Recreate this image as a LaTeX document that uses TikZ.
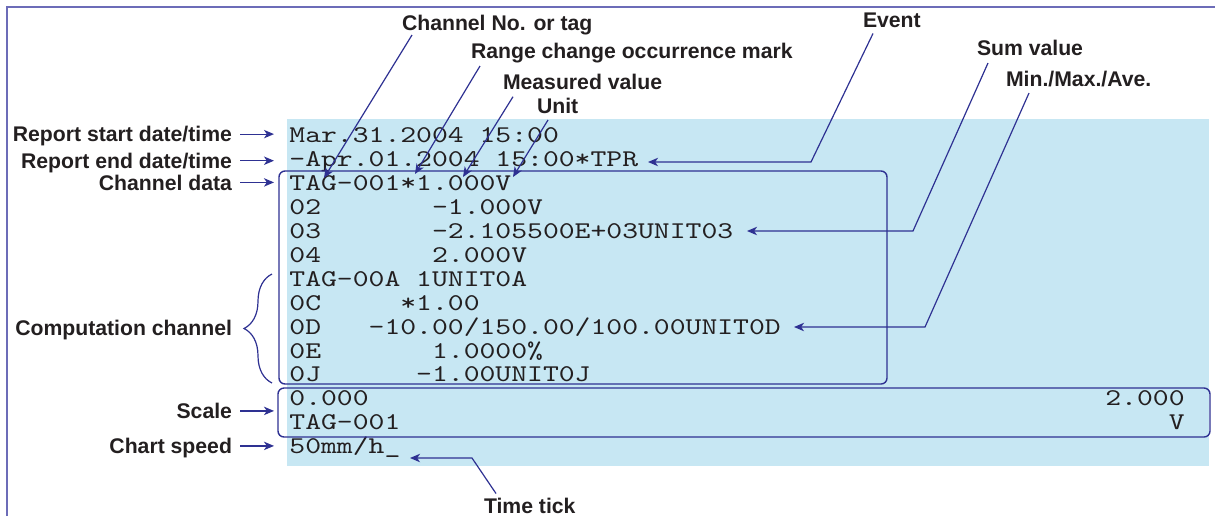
\documentclass[tikz,border=0pt]{standalone}
\usepackage{fontspec}
\usetikzlibrary{positioning,arrows.meta,calc,decorations.pathreplacing}
\newfontfamily\lblfont{Liberation Sans}
\newfontfamily\repfont{lmmono10-regular}[Extension=.otf, FakeStretch=1.258]
\definecolor{linkblue}{RGB}{46,49,146}
\definecolor{frameblue}{RGB}{108,108,184}
\definecolor{panelblue}{RGB}{199,231,243}
\definecolor{ink}{RGB}{35,31,32}

\begin{document}
\begin{tikzpicture}[x=0.5pt, y=-0.5pt,
  lbl/.style={font=\lblfont\bfseries\fontsize{10.6}{12}\selectfont, text=ink,
              inner sep=0pt, outer sep=4pt, text height=7.6pt, text depth=0pt},
  rep/.style={font=\repfont\fontsize{12}{14}\selectfont, text=ink,
              inner sep=0pt, anchor=base west},
  grp/.style={draw=linkblue, line width=0.7pt, rounded corners=3pt},
  arr/.style={-{Stealth[length=5pt, width=4.2pt, inset=1.4pt]}, linkblue, line width=0.6pt}
]
\useasboundingbox (0,0) rectangle (1215,516);
\fill[panelblue] (287,119) rectangle (1209,466);
\draw[frameblue, line width=1pt] (7,516) -- (7,7) -- (1215,7);

% report lines
\node[rep] (l1) at (289,142) {Mar.31.2004 15:00};
\node[rep] (l2) at (289,166) {-Apr.01.2004 15:00*TPR};
\node[rep] (l3) at (289,190) {TAG-001*1.000V};
\node[rep] (l4) at (289,214) {02\hphantom{0000000}-1.000V};
\node[rep] (l5) at (289,238) {03\hphantom{0000000}-2.105500E+03UNIT03};
\node[rep] (l6) at (289,262) {04\hphantom{0000000}2.000V};
\node[rep] (l7) at (289,286) {TAG-00A\hphantom{0}1UNIT0A};
\node[rep] (l8) at (289,310) {0C\hphantom{00000}*1.00};
\node[rep] (l9) at (289,334) {0D\hphantom{000}-10.00/150.00/100.00UNIT0D};
\node[rep] (l10) at (289,358) {0E\hphantom{0000000}1.0000\%};
\node[rep] (l11) at (289,381.5) {0J\hphantom{000000}-1.00UNIT0J};
\node[rep] (l12) at (289,405.5) {0.000};
\node[rep, anchor=base east] (l12r) at (1185,405.5) {2.000};
\node[rep] (l13) at (289,429.5) {TAG-001};
\node[rep, anchor=base east] (l13r) at (1185,429.5) {V};
\node[rep] (l14) at (289,453.5) {50mm/h\_};

\draw[grp] (279,171) rectangle (887,384);
\draw[grp] (278,388) rectangle (1210,437);
\draw[linkblue, line width=0.6pt, decorate, decoration={brace, amplitude=14pt}]
  (272,383) -- (272,274);

% left labels
\coordinate (lefttip) at (274,0);
\node[lbl, anchor=base east] (rstart) at (240,141.7) {Report start date/time};
\node[lbl, anchor=base east] (rend) at (240,168.3) {Report end date/time};
\node[lbl, anchor=base east] (chdata) at (240,190) {Channel data};
\node[lbl, anchor=base east] (comp) at (240,335.5) {Computation channel};
\node[lbl, anchor=base east] (scl) at (240,418.5) {Scale};
\node[lbl, anchor=base east] (speed) at (240,453.5) {Chart speed};
\draw[arr] (rstart.east) -- (rstart.east -| lefttip);
\draw[arr] (rend.east) -- (rend.east -| lefttip);
\draw[arr] (chdata.east) -- (chdata.east -| lefttip);
\draw[arr] (scl.east) -- (scl.east -| lefttip);
\draw[arr] (speed.east) -- (speed.east -| lefttip);

% top labels
\node[lbl, anchor=base west, outer sep=0pt] (chno) at (402,30.5) {Channel No. or tag};
\node[lbl, anchor=base west, outer sep=0pt] (range) at (471,58.3) {Range change occurrence mark};
\node[lbl, anchor=base west, outer sep=0pt] (meas) at (503,89) {Measured value};
\node[lbl, anchor=base west, outer sep=0pt] (unit) at (537,113.3) {Unit};
\node[lbl, anchor=base west, outer sep=0pt] (event) at (863,27.3) {Event};
\node[lbl, anchor=base west, outer sep=0pt] (sumv) at (977,55) {Sum value};
\node[lbl, anchor=base west, outer sep=0pt] (minmax) at (1006,86) {Min./Max./Ave.};
\node[lbl, anchor=base west, outer sep=0pt] (ttick) at (484,513) {Time tick};

\coordinate (chnotip) at (324,178);
\coordinate (rangetip) at (415,174);
\coordinate (meastip) at (463,177);
\coordinate (unittip) at (513,177);
\coordinate (eventbend) at (811,162);
\coordinate (eventtip) at (648,162);
\coordinate (sumbend) at (913,231);
\coordinate (sumtip) at (747,231);
\coordinate (mmbend) at (925,327);
\coordinate (mmtip) at (794,327);
\coordinate (tickbend) at (472,458);
\coordinate (ticktip) at (410,458);

\draw[arr] ($(chno.base west)+(10,4.5)$) -- (chnotip);
\draw[arr] ($(range.base west)+(9,7.7)$) -- (rangetip);
\draw[arr] ($(meas.base west)+(10,7.7)$) -- (meastip);
\draw[arr] ($(unit.base west)+(11,6.7)$) -- (unittip);
\draw[arr] ($(event.base west)+(10,6.2)$) -- (eventbend) -- (eventtip);
\draw[arr] ($(sumv.base west)+(11,8)$) -- (sumbend) -- (sumtip);
\draw[arr] ($(minmax.base west)+(23,7)$) -- (mmbend) -- (mmtip);
\draw[arr] ($(ttick.base west)+(12,-19.5)$) -- (tickbend) -- (ticktip);
\end{tikzpicture}
\end{document}
